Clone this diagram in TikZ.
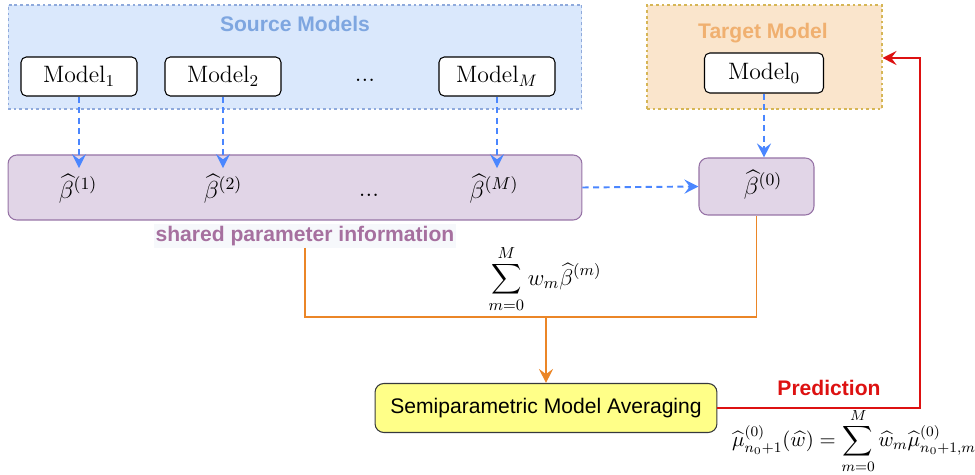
\RequirePackage{fix-cm}
\documentclass[tikz,border=0pt]{standalone}
\usepackage{amsmath}
\usepackage{fontspec}
\newfontfamily\labelfont{Liberation Sans}
\usetikzlibrary{arrows.meta}
\definecolor{sourceFill}{HTML}{DAE8FC}
\definecolor{sourceLine}{HTML}{8FAADC}
\definecolor{sourceText}{HTML}{7EA6E0}
\definecolor{targetFill}{HTML}{FAE5CC}
\definecolor{targetLine}{HTML}{D6B656}
\definecolor{targetText}{HTML}{F0B070}
\definecolor{paramFill}{HTML}{E1D5E7}
\definecolor{paramLine}{HTML}{9673A6}
\definecolor{paramText}{HTML}{A6709F}
\definecolor{infoFill}{HTML}{F6F8FB}
\definecolor{flowBlue}{HTML}{4A86FF}
\definecolor{flowOrange}{HTML}{EB8627}
\definecolor{flowRed}{HTML}{DD1111}
\definecolor{smaFill}{HTML}{FFFF88}
\definecolor{smaLine}{HTML}{36393D}
\tikzset{
  groupBox/.style={draw, line width=0.6pt, dash pattern=on 1.6pt off 1.6pt, inner sep=0pt},
  modelBox/.style={draw, line width=0.6pt, fill=white, rounded corners=3pt,
    minimum width=2.32cm, minimum height=0.78cm, inner sep=0pt, font=\fontsize{13.5}{15}\selectfont},
  paramBox/.style={draw=paramLine, fill=paramFill, line width=0.6pt, rounded corners=5pt, inner sep=0pt},
  mathText/.style={font=\fontsize{14}{16}\selectfont},
  titleText/.style={font=\labelfont\bfseries\fontsize{12}{14}\selectfont},
  blueFlow/.style={draw=flowBlue, line width=1.1pt, dash pattern=on 3.5pt off 2.5pt,
    -{Stealth[length=8pt,width=8pt,inset=3pt]}},
  orangeFlow/.style={draw=flowOrange, line width=1.1pt},
  redFlow/.style={draw=flowRed, line width=1.1pt, -{Stealth[length=8pt,width=8pt,inset=3pt]}}
}
\begin{document}
\begin{tikzpicture}[x=0.02cm, y=-0.02cm]
  \useasboundingbox (0,0) rectangle (975,475);
  % source models
  \node[groupBox, fill=sourceFill, draw=sourceLine, minimum width=11.48cm, minimum height=2.08cm] (source) at (295,57) {};
  \node[titleText, text=sourceText] (sourceTitle) at (295,24) {Source Models};
  \node[modelBox] (model1) at (79,76.5) {$\mathrm{Model}_1$};
  \node[modelBox] (model2) at (223,76.5) {$\mathrm{Model}_2$};
  \node[mathText] (sourceDots) at (365,80) {...};
  \node[modelBox] (modelM) at (497,76.5) {$\mathrm{Model}_M$};
  % shared parameters
  \node[paramBox, minimum width=11.48cm, minimum height=1.3cm] (shared) at (295,187.5) {};
  \node[mathText] (beta1) at (78,189) {$\widehat{\beta}^{(1)}$};
  \node[mathText] (beta2) at (223,189) {$\widehat{\beta}^{(2)}$};
  \node[mathText] (betaDots) at (369,195) {...};
  \node[mathText] (betaM) at (494,189) {$\widehat{\beta}^{(M)}$};
  \node[titleText, text=paramText, fill=infoFill, inner sep=1pt] (sharedInfo) at (305,236) {shared parameter information};
  \draw[blueFlow] (model1.south) -- (model1.south |- beta1.north);
  \draw[blueFlow] (model2.south) -- (model2.south |- beta2.north);
  \draw[blueFlow] (modelM.south) -- (modelM.south |- betaM.north);
  % target model
  \node[groupBox, fill=targetFill, draw=targetLine, minimum width=4.7cm, minimum height=2.08cm] (target) at (764.5,57) {};
  \node[titleText, text=targetText] (targetTitle) at (763,33) {Target Model};
  \node[modelBox, minimum width=2.38cm, minimum height=0.8cm] (model0) at (764,73) {$\mathrm{Model}_0$};
  \node[paramBox, minimum width=2.3cm, minimum height=1.14cm] (beta0Box) at (756.5,186.5) {};
  \node[mathText] (beta0) at (763,185) {$\widehat{\beta}^{(0)}$};
  \draw[blueFlow] (model0.south) -- (model0.south |- beta0Box.north);
  \draw[blueFlow] (shared.east) -- (beta0Box.west);
  % averaging
  \node[font=\fontsize{13}{15}\selectfont] (weightedSum) at (545,279) {$\displaystyle\sum_{m=0}^{M} w_m\widehat{\beta}^{(m)}$};
  \node[draw=smaLine, fill=smaFill, line width=0.6pt, rounded corners=5pt, minimum width=6.84cm, minimum height=0.98cm,
    font=\labelfont\fontsize{12}{14}\selectfont] (sma) at (546,408) {Semiparametric Model Averaging};
  \coordinate (merge) at (546,317);
  \draw[orangeFlow] (sharedInfo.south) |- (merge) -| (beta0Box.south);
  \draw[orangeFlow, -{Stealth[length=8pt,width=8pt,inset=3pt]}] (merge) -- (sma.north);
  % prediction
  \coordinate (loopTurn) at (920,58);
  \node[titleText, text=flowRed] (predLabel) at (829,388) {Prediction};
  \node[font=\fontsize{11.8}{14}\selectfont, inner sep=1pt] (predFormula) at (854,441)
    {$\displaystyle\widehat{\mu}^{(0)}_{n_0+1}(\widehat{w})=\sum_{m=0}^{M}\widehat{w}_m\widehat{\mu}^{(0)}_{n_0+1,m}$};
  \draw[redFlow] (sma.east) -| (loopTurn) -- (loopTurn -| target.east);
\end{tikzpicture}
\end{document}
